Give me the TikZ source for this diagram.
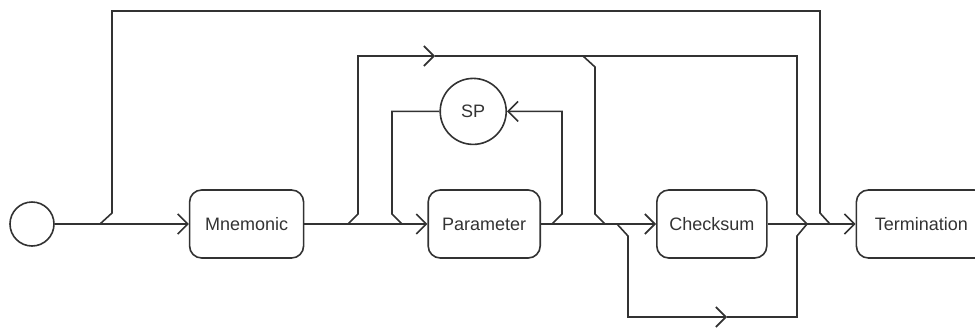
\documentclass[tikz,border=0pt]{standalone}
\usepackage{fontspec}
\setmainfont{Liberation Sans}
\usetikzlibrary{arrows.meta,positioning}
\definecolor{wire}{RGB}{50,50,50}

\begin{document}
\begin{tikzpicture}[
  x=1pt,y=-1pt,
  >={Straight Barb[length=10pt,width=20pt]},
  font=\fontsize{18}{20}\selectfont,
  line/.style={draw=wire,line width=1.6pt},
  blk/.style={draw=wire,line width=1.6pt,rounded corners=12pt,minimum height=68pt,minimum width=112pt,inner sep=0pt,text=black!80},
  term/.style={draw=wire,line width=1.6pt,circle,inner sep=0pt,text=black!80}
]
  \clip (0,0) rectangle (975,327);
  \node[term,minimum size=44pt] (start) at (32,224) {};
  \node[blk,minimum width=114pt,right=134pt of start] (mnem) {Mnemonic};
  \node[blk,right=123pt of mnem] (prm) {Parameter};
  \node[blk,minimum width=110pt,right=115pt of prm] (chk) {Checksum};
  \node[blk,minimum width=130pt,right=88pt of chk] (trm) {Termination};
  \node[term,minimum size=66pt,above=44pt of prm,xshift=-11pt] (sp) {SP};

  % points where the bypasses leave and join the main line
  \coordinate (b1) at (100,224);
  \coordinate (b2) at (348,224);
  \coordinate (m1) at (402,224);
  \coordinate (b3) at (552,224);
  \coordinate (m2) at (605,224);
  \coordinate (b4) at (617,224);
  \coordinate (m3) at (807,224);
  \coordinate (m4) at (830,224);
  \coordinate (a1) at (435,56);
  \coordinate (a2) at (727,317);

  % main line
  \draw[line,->] (start) -- (mnem);
  \draw[line,->] (mnem) -- (prm);
  \draw[line,->] (prm) -- (chk);
  \draw[line,->] (chk) -- (trm);

  % outer bypass
  \draw[line] (b1) -- ++(12,-11) |- (820,11) -- (820,213) -- (m4);

  % skip parameter / checksum
  \draw[line,->] (b2) -- ++(10,-10) |- (a1);
  \draw[line] (a1) -- (797,56) -- (797,214) -- (m3);
  \draw[line] (583,56) -- (595,67) -- (595,214) -- (m2);

  % repeat with SP
  \draw[line,->] (b3) -- ++(10,-10) |- (sp);
  \draw[line] (sp) -| (392,214) -- (m1);

  % skip checksum
  \draw[line,->] (b4) -- ++(11,12) |- (a2);
  \draw[line] (a2) -| (797,236) -- (m3);
\end{tikzpicture}
\end{document}
